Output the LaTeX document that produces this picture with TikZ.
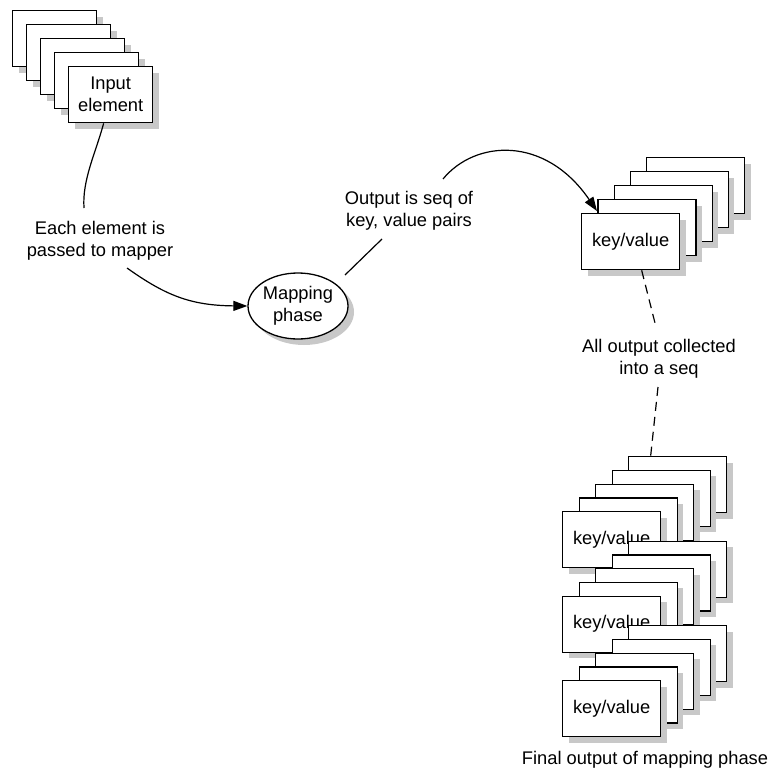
\documentclass[tikz,border=0pt]{standalone}
\usepackage{fontspec}
\setmainfont{Liberation Sans}
\usetikzlibrary{arrows.meta,shapes.geometric,shadows}
\definecolor{shadowgray}{HTML}{C8C8C8}
\tikzset{
  txt/.style={font=\fontsize{18.3}{22}\selectfont, align=center, inner sep=0pt},
  gshadow/.style={drop shadow={fill=shadowgray, opacity=1, shadow xshift=6pt, shadow yshift=-6pt}},
  card/.style={txt, draw=black, fill=white, line width=1.3pt, minimum width=98pt,
    minimum height=56pt, anchor=north west, gshadow},
  smallcard/.style={card, minimum width=84pt},
  conn/.style={line width=1.2pt},
  arr/.style={conn, -{Triangle[length=14pt,width=10pt]}},
  dashconn/.style={line width=1.2pt, dash pattern=on 9pt off 6pt},
}
\begin{document}
\begin{tikzpicture}[x=1pt,y=-1pt]
\useasboundingbox (0,0) rectangle (771,773);

% top-left stack of input elements
\foreach \i in {0,...,3}
  \node[smallcard] (in\i) at ({12+14*\i},{10+14*\i}) {};
\node[smallcard] (in4) at (68,66) {Input\\element};

% mapping phase
\node[txt, ellipse, draw=black, fill=white, line width=1.3pt, minimum width=100pt,
      minimum height=66pt, gshadow] (map) at (298,306) {Mapping\\phase};

% top-right stack of key/value pairs
\foreach \i in {0,...,3}
  \node[card] (kv\i) at ({646-16.25*\i},{157+14*\i}) {};
\node[card] (kv4) at (581,213) {key/value};

% bottom three stacks
\foreach \s in {0,1,2}{
  \foreach \i in {0,...,3}
    \node[card] (b\s\i) at ({628-16.5*\i},{456+84.5*\s+13.75*\i}) {};
  \node[card] (b\s4) at (562,{511+84.5*\s}) {key/value};
}

% labels
\node[txt] (t1) at (100,240.5) {Each element is\\passed to mapper};
\node[txt] (t2) at (409,210.5) {Output is seq of\\key, value pairs};
\node[txt] (t3) at (659,359) {All output collected\\into a seq};
\node[txt] (t4) at (645,760) {Final output of mapping phase};

% connector end points at the labels
\coordinate (t1top) at (84,208);
\coordinate (t1bot) at (127,268);
\coordinate (t2bot) at (382,239);
\coordinate (t2top) at (443,179);
\coordinate (t3top) at (655,323);
\coordinate (t3bot) at (658,387);
\coordinate (mapne) at (345,275);
\coordinate (kvin) at (597,211);

% connectors
\draw[conn] ([xshift=-7pt]in4.south) .. controls (96,152) and (82,180) .. (t1top);
\draw[arr] (t1bot) .. controls (165,295) and (190,305.5) .. (map.west);
\draw[conn] (mapne) -- (t2bot);
\draw[arr] (t2top) .. controls (475,140) and (545,135) .. (kvin);
\draw[dashconn] ([xshift=11pt]kv4.south) -- (t3top);
\draw[dashconn] (t3bot) -- ([xshift=-27pt]b00.north);
\end{tikzpicture}
\end{document}
